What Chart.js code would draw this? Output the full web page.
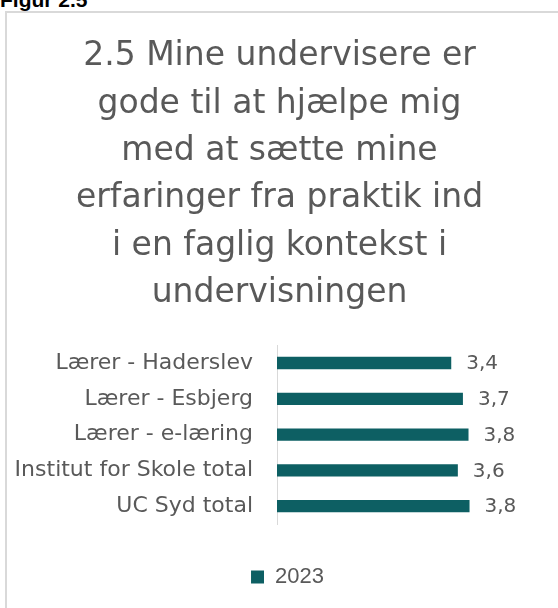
<!DOCTYPE html>
<html>
<head>
<meta charset="utf-8">
<script src="https://cdn.jsdelivr.net/npm/chart.js@4"></script>
<style>
  html, body { margin: 0; padding: 0; background: #fff; width: 558px; height: 608px; overflow: hidden; }
  #fig { position: absolute; left: 0; top: -12px; font-family: "Liberation Sans", Arial, sans-serif; font-weight: bold; font-size: 21px; color: #000; }
  #box { position: absolute; left: 5px; top: 11px; width: 600px; height: 700px; border: 2px solid #d9d9d9; box-sizing: border-box; }
  #wrap { position: absolute; left: 8px; top: 14px; width: 550px; height: 594px; }
</style>
</head>
<body>
<div id="fig">Figur 2.5</div>
<div id="box"></div>
<div id="wrap"><canvas id="c" width="550" height="594"></canvas></div>
<script>
const titleLines = [
  "2.5 Mine undervisere er",
  "gode til at hjælpe mig",
  "med at sætte mine",
  "erfaringer fra praktik ind",
  "i en faglig kontekst i",
  "undervisningen"
];
const categories = [
  "Lærer - Haderslev",
  "Lærer - Esbjerg",
  "Lærer - e-læring",
  "Institut for Skole total",
  "UC Syd total"
];
const seriesName = "2023";
const values2023 = [3.43, 3.66, 3.77, 3.56, 3.79];
const valueLabels = ["3,4", "3,7", "3,8", "3,6", "3,8"];

const grey = "#595959";
const teal = "#0D5F63";

const valueLabelPlugin = {
  id: "valueLabels",
  afterLayout(chart) {
    // centre title and legend like the original
    chart.titleBlock.left += 10;
    chart.titleBlock.right += 10;
    chart.legend.left += 18;
    chart.legend.right += 18;
  },
  afterDatasetsDraw(chart) {
    const ctx = chart.ctx;
    const meta = chart.getDatasetMeta(0);
    ctx.save();
    ctx.font = "20px 'DejaVu Sans'";
    ctx.fillStyle = grey;
    ctx.textAlign = "left";
    ctx.textBaseline = "middle";
    meta.data.forEach((bar, i) => {
      ctx.fillText(valueLabels[i], bar.x + 15, bar.y + 1);
    });
    ctx.restore();
  }
};

new Chart(document.getElementById("c"), {
  type: "bar",
  data: {
    labels: categories,
    datasets: [{
      label: seriesName,
      data: values2023,
      backgroundColor: teal,
      borderWidth: 0,
      categoryPercentage: 0.8,
      barPercentage: 0.43
    }]
  },
  options: {
    indexAxis: "y",
    responsive: false,
    animation: false,
    layout: { padding: { left: 0, right: 27, top: 0, bottom: 10 } },
    scales: {
      x: { display: false, min: 0, max: 5 },
      y: {
        grid: { display: false, drawTicks: false },
        border: { display: true, color: "#d9d9d9", width: 1 },
        ticks: { color: grey, font: { family: "DejaVu Sans", size: 22 }, padding: 24 },
        afterFit(scale) { scale.width = 269; }
      }
    },
    plugins: {
      title: {
        display: true,
        text: titleLines,
        color: grey,
        font: { family: "DejaVu Sans", size: 33, weight: "normal", lineHeight: 1.435 },
        padding: { top: 19, bottom: 28 }
      },
      legend: {
        position: "bottom",
        labels: {
          boxWidth: 13,
          boxHeight: 13,
          color: grey,
          font: { family: "Liberation Sans", size: 22 },
          padding: 42
        }
      },
      tooltip: { enabled: false }
    }
  },
  plugins: [valueLabelPlugin]
});
</script>
</body>
</html>
